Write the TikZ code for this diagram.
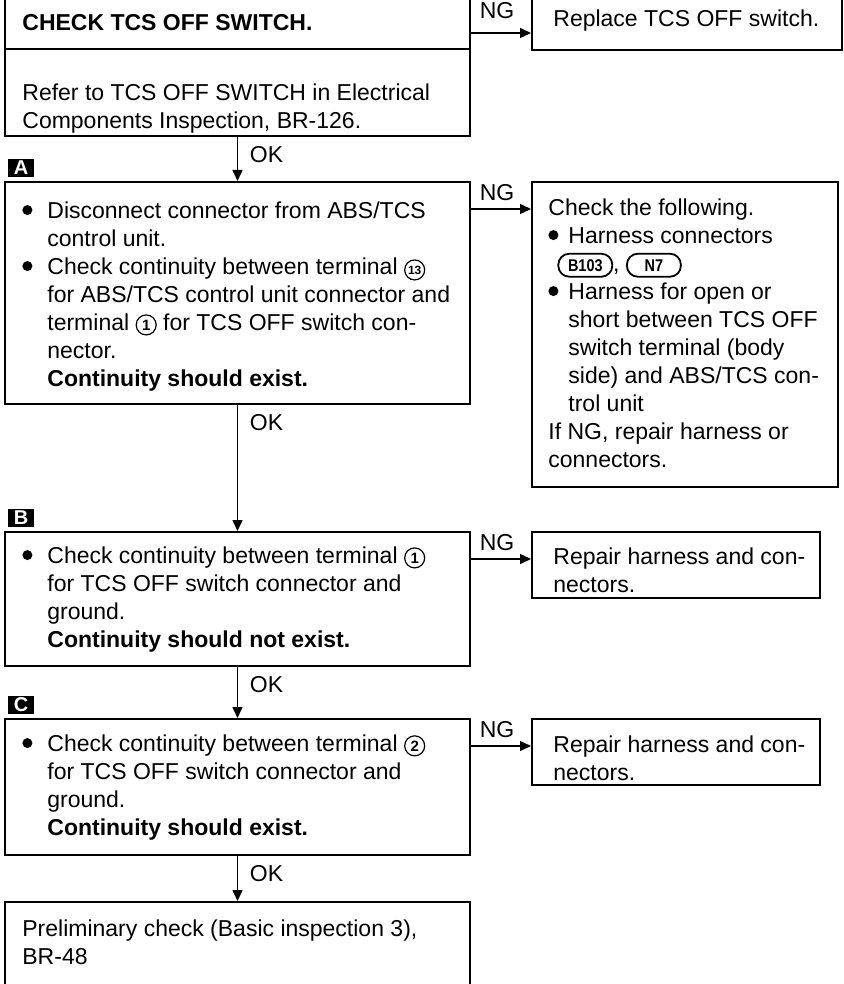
\documentclass[tikz,border=0pt]{standalone}
\usepackage{fontspec}
\setmainfont{Liberation Sans}
\usetikzlibrary{arrows.meta, fit}

% bullet, indent, circled terminal no., connector badge
\newcommand{\bul}[1][12.5pt]{\makebox[#1][l]{\raisebox{1.5pt}{\tikz\fill (0,0) circle (2.5pt);}}}
\newcommand{\ind}[1][12.5pt]{\hspace*{#1}}
\newcommand{\cnum}[2][7.5]{\tikz[baseline=(cn.base)]\node[circle, draw, line width=0.6pt, inner sep=0pt, minimum size=10pt, font=\fontsize{#1}{#1}\selectfont\bfseries] (cn) {#2};}
\newcommand{\conn}[1]{\tikz[baseline=(cb.base)]\node[draw, line width=0.9pt, rounded corners=5.5pt, minimum width=27pt, minimum height=11.5pt, inner sep=1pt, font=\fontsize{8.5}{8.5}\selectfont\bfseries] (cb) {\scalebox{0.85}[1]{#1}};}

\begin{document}
\begin{tikzpicture}[x=0.5pt, y=-0.5pt,
  box/.style={draw, line width=1pt, inner sep=0pt},
  txt/.style={anchor=north west, align=left, inner sep=0pt, font=\fontsize{11.5}{14}\selectfont},
  lab/.style={inner sep=0pt, font=\fontsize{11.5}{14}\selectfont},
  stepmark/.style={fill=black, text=white, inner sep=0pt, minimum width=13pt, minimum height=9pt, font=\fontsize{10}{10}\selectfont\bfseries},
  flow/.style={line width=0.75pt, -{Triangle[length=5.5pt,width=5pt]}}]
\clip (0,0) rectangle (843,984);

% boxes
\node[box, fit={(5,-10) (470,136)}] (chk) {};
\node[box, fit={(532,-10) (842,50)}] (rep) {};
\node[box, fit={(5,182) (470,404)}] (stA) {};
\node[box, fit={(532,182) (838,487)}] (ngA) {};
\node[box, fit={(5,532) (470,666)}] (stB) {};
\node[box, fit={(532,532) (820,598)}] (ngB) {};
\node[box, fit={(5,719) (470,855)}] (stC) {};
\node[box, fit={(532,719) (820,785)}] (ngC) {};
\node[box, fit={(5,902) (470,995)}] (fin) {};
\draw[line width=1pt] (chk.west |- 0,49) -- (chk.east |- 0,49);

% texts
\node[txt, font=\fontsize{11.5}{14}\selectfont\bfseries] (chkhead) at (22,14) {CHECK TCS OFF SWITCH.};
\node[txt] (chktxt) at (22,83) {Refer to TCS OFF SWITCH in Electrical\\Components Inspection, BR-126.};
\node[txt] (reptxt) at (553,9) {Replace TCS OFF switch.};
\node[txt] (stAtxt) at (22,201) {\bul Disconnect connector from ABS/TCS\\
  \ind control unit.\\
  \bul Check continuity between terminal \cnum[6]{13}\\
  \ind for ABS/TCS control unit connector and\\
  \ind terminal \cnum{1} for TCS OFF switch con-\\
  \ind nector.\\
  \ind\textbf{Continuity should exist.}};
\node[txt] (ngAtxt) at (548,198) {Check the following.\\
  \bul[10pt]Harness connectors\\
  \ind[4.5pt]\conn{B103}, \conn{N7}\\
  \bul[10pt]Harness for open or\\
  \ind[10pt]short between TCS OFF\\
  \ind[10pt]switch terminal (body\\
  \ind[10pt]side) and ABS/TCS con-\\
  \ind[10pt]trol unit\\
  If NG, repair harness or\\
  connectors.};
\node[txt] (stBtxt) at (22,546) {\bul Check continuity between terminal \cnum{1}\\
  \ind for TCS OFF switch connector and\\
  \ind ground.\\
  \ind\textbf{Continuity should not exist.}};
\node[txt] (ngBtxt) at (553,547) {Repair harness and con-\\nectors.};
\node[txt] (stCtxt) at (22,734) {\bul Check continuity between terminal \cnum{2}\\
  \ind for TCS OFF switch connector and\\
  \ind ground.\\
  \ind\textbf{Continuity should exist.}};
\node[txt] (ngCtxt) at (553,735) {Repair harness and con-\\nectors.};
\node[txt] (fintxt) at (22,919) {Preliminary check (Basic inspection 3),\\BR-48};

% step markers
\node[stepmark] (mA) at (21,168) {A};
\node[stepmark] (mB) at (21,518) {B};
\node[stepmark] (mC) at (21,705) {C};

% OK arrows
\draw[flow] (chk.south) -- (stA.north);
\node[lab, anchor=west] (ok1) at ([xshift=6pt, yshift=-9pt]chk.south) {OK};
\draw[flow] (stA.south) -- (stB.north);
\node[lab, anchor=west] (ok2) at ([xshift=6pt, yshift=-9pt]stA.south) {OK};
\draw[flow] (stB.south) -- (stC.north);
\node[lab, anchor=west] (ok3) at ([xshift=6pt, yshift=-9pt]stB.south) {OK};
\draw[flow] (stC.south) -- (fin.north);
\node[lab, anchor=west] (ok4) at ([xshift=6pt, yshift=-9pt]stC.south) {OK};

% NG arrows
\coordinate (ng0) at (chk.east |- 0,33);
\coordinate (ng1) at ([yshift=-14pt]stA.north east);
\coordinate (ng2) at ([yshift=-14pt]stB.north east);
\coordinate (ng3) at ([yshift=-14pt]stC.north east);
\draw[flow] (ng0) -- (ng0 -| rep.west);
\draw[flow] (ng1) -- (ng1 -| ngA.west);
\draw[flow] (ng2) -- (ng2 -| ngB.west);
\draw[flow] (ng3) -- (ng3 -| ngC.west);
\node[lab] (ngl0) at ([xshift=13pt, yshift=11pt]ng0) {NG};
\node[lab] (ngl1) at ([xshift=13pt, yshift=8pt]ng1) {NG};
\node[lab] (ngl2) at ([xshift=13pt, yshift=8pt]ng2) {NG};
\node[lab] (ngl3) at ([xshift=13pt, yshift=8pt]ng3) {NG};
\end{tikzpicture}
\end{document}
